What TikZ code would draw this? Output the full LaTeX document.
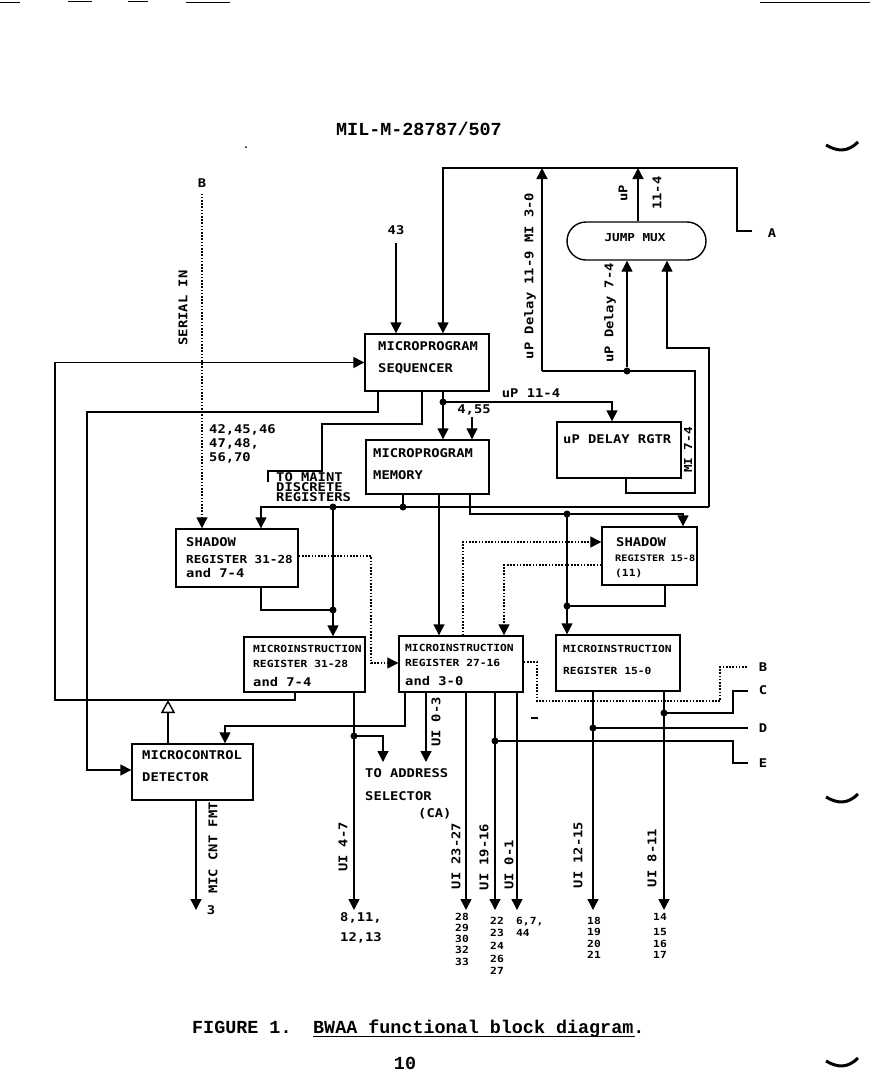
\documentclass[tikz,border=0pt]{standalone}
\usepackage{fontspec}
\usetikzlibrary{arrows.meta,calc}
\newfontfamily\dm{DejaVu Sans Mono}[FakeStretch=1.15]
\newfontfamily\cour{Liberation Mono}
\begin{document}
\begin{tikzpicture}[x=1pt,y=-1pt,
  lbl/.style={font=\dm\bfseries\fontsize{12}{12}\selectfont, inner sep=0pt, text height=8.7pt, text depth=0pt},
  mid/.style={font=\dm\bfseries\fontsize{11}{11}\selectfont, inner sep=0pt, text height=8pt, text depth=0pt},
  sml/.style={font=\dm\bfseries\fontsize{9.8}{10}\selectfont, inner sep=0pt, text height=7.1pt, text depth=0pt},
  tny/.style={font=\dm\bfseries\fontsize{8.9}{9}\selectfont, inner sep=0pt, text height=6.5pt, text depth=0pt},
  box/.style={draw, line width=1.4pt, inner sep=0pt},
  dot/.style={circle, fill, inner sep=0pt, minimum size=7pt},
  wire/.style={line width=1.4pt},
  arr/.style={wire, -{Triangle[length=11pt,width=11pt]}},
  dwire/.style={line width=1.3pt, dash pattern=on 1.6pt off 1.6pt},
  darr/.style={dwire, -{Triangle[length=11pt,width=11pt]}},
  opentri/.style={wire, -{Triangle[open,length=13pt,width=14pt]}},
  captxt/.style={font=\cour\bfseries\fontsize{18.4}{20}\selectfont, inner sep=0pt},
  rot/.style={rotate=90}
]
\useasboundingbox (0,0) rectangle (870,1072);

% ---- scan marks ----
\draw[line width=1pt] (0,2) -- (20,2) (68,1.5) -- (92,1.5) (128,1.5) -- (148,1.5) (186,2) -- (230,2) (760,2) -- (870,2);
\draw[line width=3pt] (826,145) .. controls (838,152) and (848,152) .. (858,142);
\draw[line width=3pt] (826,797) .. controls (838,804) and (848,804) .. (858,794);
\draw[line width=3pt] (826,1061) .. controls (838,1068) and (848,1068) .. (858,1058);
\fill (246,147) circle (1pt);

% ---- header / caption ----
\node[captxt] (hdr) at (419,129) {MIL-M-28787/507};
\node[captxt, anchor=base west] (cap1) at (192,1033) {FIGURE 1.};
\node[captxt, anchor=base west] (cap2) at (313,1033) {BWAA functional block diagram.};
\draw[line width=1pt] (313,1036.5) -- (635,1036.5);
\node[captxt] (pg) at (405,1063) {10};

% ---- boxes ----
\node[box, minimum width=124pt, minimum height=57pt] (seq) at (427,362.5) {};
\node[box, minimum width=123pt, minimum height=54pt] (mem) at (427.5,467) {};
\node[box, minimum width=124pt, minimum height=56pt] (dly) at (619,450) {};
\node[box, minimum width=139pt, minimum height=38pt, rounded corners=19pt] (jmux) at (636.5,241) {};
\node[box, minimum width=122pt, minimum height=58pt] (sh1) at (237,558) {};
\node[box, minimum width=95pt, minimum height=58pt] (sh2) at (649.5,556) {};
\node[box, minimum width=121pt, minimum height=55pt] (mr1) at (304.5,664.5) {};
\node[box, minimum width=124pt, minimum height=56pt] (mr2) at (461,664) {};
\node[box, minimum width=124pt, minimum height=56pt] (mr3) at (618,663) {};
\node[box, minimum width=121pt, minimum height=56pt] (det) at (192.5,772) {};

% ---- box texts ----
\node[lbl, anchor=west] (tseq1) at (378,346) {MICROPROGRAM};
\node[lbl, anchor=west] (tseq2) at (378,368) {SEQUENCER};
\node[lbl, anchor=west] (tmem1) at (373,453) {MICROPROGRAM};
\node[lbl, anchor=west] (tmem2) at (373,475) {MEMORY};
\node[lbl, anchor=west] (tdly) at (563,439) {uP DELAY RGTR};
\node[mid] (tjm) at (635,237) {JUMP MUX};
\node[lbl, anchor=west] (tsh1a) at (186,542) {SHADOW};
\node[mid, anchor=west] (tsh1b) at (186,559) {REGISTER 31-28};
\node[lbl, anchor=west] (tsh1c) at (186,573) {and 7-4};
\node[lbl, anchor=west] (tsh2a) at (616,542) {SHADOW};
\node[tny, anchor=west] (tsh2b) at (615,558) {REGISTER 15-8};
\node[sml, anchor=west] (tsh2c) at (615,573) {(11)};
\node[sml, anchor=west] (tmr1a) at (253,649) {MICROINSTRUCTION};
\node[sml, anchor=west] (tmr1b) at (253,664) {REGISTER 31-28};
\node[lbl, anchor=west] (tmr1c) at (253,682) {and 7-4};
\node[sml, anchor=west] (tmr2a) at (405,648) {MICROINSTRUCTION};
\node[sml, anchor=west] (tmr2b) at (405,663) {REGISTER 27-16};
\node[lbl, anchor=west] (tmr2c) at (405,681) {and 3-0};
\node[sml, anchor=west] (tmr3a) at (563,649) {MICROINSTRUCTION};
\node[sml, anchor=west] (tmr3b) at (563,671) {REGISTER 15-0};
\node[lbl, anchor=west] (tdet1) at (142,755) {MICROCONTROL};
\node[lbl, anchor=west] (tdet2) at (142,777) {DETECTOR};

% ---- free labels ----
\node[lbl] (n43) at (396,230) {43};
\node[lbl] (nA) at (772,233) {A};
\node[lbl] (nBt) at (202,183) {B};
\node[lbl] (nBr) at (763,667) {B};
\node[lbl] (nC) at (763,690) {C};
\node[lbl] (nD) at (763,728) {D};
\node[lbl] (nE) at (763,763) {E};
\node[lbl, rot] (lserial) at (183,308) {SERIAL IN};
\node[lbl, rot] (ldel1) at (529,276) {uP Delay 11-9 MI 3-0};
\node[lbl, rot] (ldel2) at (609,313) {uP Delay 7-4};
\node[lbl, rot] (lup) at (623,193) {uP};
\node[lbl, rot] (l114) at (657,193) {11-4};
\node[mid, rot] (lmi) at (688,450) {MI 7-4};
\node[lbl, rot] (lmic) at (213,848) {MIC CNT FMT};
\node[lbl, rot] (lu47) at (343,847) {UI 4-7};
\node[lbl, rot] (lu03) at (436,722) {UI 0-3};
\node[lbl, rot] (lu2327) at (456,856) {UI 23-27};
\node[lbl, rot] (lu1916) at (484,857) {UI 19-16};
\node[lbl, rot] (lu01) at (509,865) {UI 0-1};
\node[lbl, rot] (lu1215) at (578,855) {UI 12-15};
\node[lbl, rot] (lu811) at (652,858) {UI 8-11};
\node[lbl, anchor=west] (l4246) at (209,429) {42,45,46};
\node[lbl, anchor=west] (l4748) at (209,443) {47,48,};
\node[lbl, anchor=west] (l5670) at (209,457) {56,70};
\node[lbl, anchor=west] (lmaint1) at (276,477) {TO MAINT};
\node[lbl, anchor=west] (lmaint2) at (276,487) {DISCRETE};
\node[lbl, anchor=west] (lmaint3) at (276,497) {REGISTERS};
\node[lbl] (lup114) at (531,393) {uP 11-4};
\node[lbl] (l455) at (474,409) {4,55};
\node[lbl, anchor=west] (lta1) at (365,773) {TO ADDRESS};
\node[lbl, anchor=west] (lta2) at (365,796) {SELECTOR};
\node[lbl, anchor=west] (lta3) at (418,813) {(CA)};
\node[lbl] (l3) at (211,910) {3};
\node[lbl] (lb1a) at (361,917) {8,11,};
\node[lbl] (lb1b) at (361,937) {12,13};
\node[sml] (lb2a) at (462,917) {28};
\node[sml] (lb2b) at (462,928) {29};
\node[sml] (lb2c) at (462,939) {30};
\node[sml] (lb2d) at (462,950) {32};
\node[sml] (lb2e) at (462,962) {33};
\node[sml] (lb3a) at (497,921) {22};
\node[sml] (lb3b) at (497,933) {23};
\node[sml] (lb3c) at (497,946) {24};
\node[sml] (lb3d) at (497,959) {26};
\node[sml] (lb3e) at (497,971) {27};
\node[sml, anchor=west] (lb4a) at (516,921) {6,7,};
\node[sml, anchor=west] (lb4b) at (516,933) {44};
\node[sml] (lb5a) at (594,921) {18};
\node[sml] (lb5b) at (594,932) {19};
\node[sml] (lb5c) at (594,944) {20};
\node[sml] (lb5d) at (594,955) {21};
\node[sml] (lb6a) at (660,917) {14};
\node[sml] (lb6b) at (660,932) {15};
\node[sml] (lb6c) at (660,944) {16};
\node[sml] (lb6d) at (660,955) {17};

% ---- junction dots ----
\node[dot] (dseq) at (443,402) {};
\node[dot] (djm) at (627,371) {};
\node[dot] (dmem) at (403,507) {};
\node[dot] (dbus) at (333,507) {};
\node[dot] (dsh1) at (333,610) {};
\node[dot] (db2) at (567,514) {};
\node[dot] (dsh2) at (567,606) {};
\node[dot] (dmr1) at (354,736) {};
\node[dot] (dE) at (495,741) {};
\node[dot] (dD) at (593,728) {};
\node[dot] (dC) at (664,713) {};

% ---- helper coordinates ----
\coordinate (cA) at (752,231);
\coordinate (cTop) at (443,168);
\coordinate (cjo) at (638,168);
\coordinate (cup) at (542,371);
\coordinate (cdl) at (626,493);
\coordinate (cjm2) at (667,348);
\coordinate (cbr) at (709,507);
\coordinate (cbl) at (261,507);
\coordinate (cml) at (295,700);
\coordinate (ctri) at (168,700);
\coordinate (cs1) at (378,412);
\coordinate (cdw) at (87,770);
\coordinate (cm) at (422,424);
\coordinate (cdt) at (612,402);
\coordinate (c455) at (472,417);
\coordinate (cm2) at (439,500);
\coordinate (cm3) at (470,514);
\coordinate (cm4) at (683,514);
\coordinate (cs2) at (665,606);
\coordinate (cd1) at (371,556);
\coordinate (cd1b) at (371,663);
\coordinate (cd2) at (463,542);
\coordinate (cd3) at (504,565);
\coordinate (cd4) at (537,662);
\coordinate (cBr) at (748,667);
\coordinate (cC) at (748,691);
\coordinate (cD) at (748,728);
\coordinate (cE) at (748,763);
\coordinate (co1) at (354,910);
\coordinate (co2) at (383,762);
\coordinate (co3) at (405,726);
\coordinate (co3b) at (225,726);
\coordinate (co4) at (426,762);
\coordinate (co5) at (466,910);
\coordinate (co6) at (495,910);
\coordinate (co7) at (517,910);
\coordinate (co8) at (593,910);
\coordinate (co9) at (664,910);
\coordinate (co10) at (196,910);

% ---- connectors ----
\draw[arr] (cA) -- (737,231) |- (cTop) -- (cTop |- seq.north);
\draw[arr] (cjo |- jmux.north) -- (cjo);
\draw[wire] (cdl |- dly.south) -- (cdl) -- (695,493) -- (695,371) -- (cup);
\draw[arr] (cup) -- (cup |- cTop);
\draw[arr] (djm) -- (djm |- jmux.south);
\draw[arr] (cbr) |- (cjm2) -- (cjm2 |- jmux.south);
\draw[arr] ($(n43.south)+(0,8)$) -- (n43.south |- seq.north);
\draw[darr] ($(nBt.south)+(0,6)$) -- (nBt.south |- sh1.north);
\draw[arr] (cml |- mr1.south) -- (cml) -- (55,700) -- (55,362.5) -- (seq.west);
\draw[opentri] (ctri |- det.north) -- (ctri);
\draw[arr] (cs1 |- seq.south) -- (cs1) -- (87,412) -- (cdw) -- (cdw -| det.west);
\draw[wire] (cm |- seq.south) -- (cm) -- (322,424) -- (322,471) -- (268,471) -- (268,482);
\draw[arr] (dseq |- seq.south) -- (dseq.center) -- (dseq |- mem.north);
\draw[arr] (dseq.center) -- (cdt) -- (cdt |- dly.north);
\draw[arr] (c455) -- (c455 |- mem.north);
\draw[wire] (dmem |- mem.south) -- (dmem.center);
\draw[arr] (cbr) -- (cbl) -- (cbl |- sh1.north);
\draw[arr] (dbus.center) -- (dbus |- mr1.north);
\draw[wire] (cbl |- sh1.south) -- (cbl |- dsh1) -- (dsh1.center);
\draw[arr] (cm2 |- mem.south) -- (cm2 |- mr2.north);
\draw[arr] (cm3 |- mem.south) -- (cm3) -- (cm4) -- (cm4 |- sh2.north);
\draw[arr] (db2.center) -- (db2 |- mr3.north);
\draw[wire] (cs2 |- sh2.south) -- (cs2) -- (dsh2.center);
\draw[darr] (cd1 -| sh1.east) -- (cd1) -- (cd1b) -- (cd1b -| mr2.west);
\draw[darr] (cd2 |- mr2.north) -- (cd2) -- (cd2 -| sh2.west);
\draw[darr] (cd3 -| sh2.west) -- (cd3) -- (cd3 |- mr2.north);
\draw[dwire] (cd4 -| mr2.east) -- (cd4) -- (537,701) -- (720,701) -- (720,667) -- (cBr);
\draw[arr] (co1 |- mr1.south) -- (co1);
\draw[arr] (dmr1.center) -- (co2 |- dmr1) -- (co2);
\draw[arr] (co3 |- mr2.south) -- (co3) -- (co3b) -- (co3b |- det.north);
\draw[arr] (co4 |- mr2.south) -- (co4);
\draw[arr] (co5 |- mr2.south) -- (co5);
\draw[arr] (co6 |- mr2.south) -- (co6);
\draw[arr] (co7 |- mr2.south) -- (co7);
\draw[wire] (dE.center) -- (733,741) -- (733,763) -- (cE);
\draw[arr] (co8 |- mr3.south) -- (co8);
\draw[arr] (co9 |- mr3.south) -- (co9);
\draw[wire] (dD.center) -- (cD);
\draw[wire] (dC.center) -- (733,713) -- (733,691) -- (cC);
\draw[arr] (co10 |- det.south) -- (co10);
\draw[line width=1.4pt] (531,718) -- (538,718);
\end{tikzpicture}
\end{document}
